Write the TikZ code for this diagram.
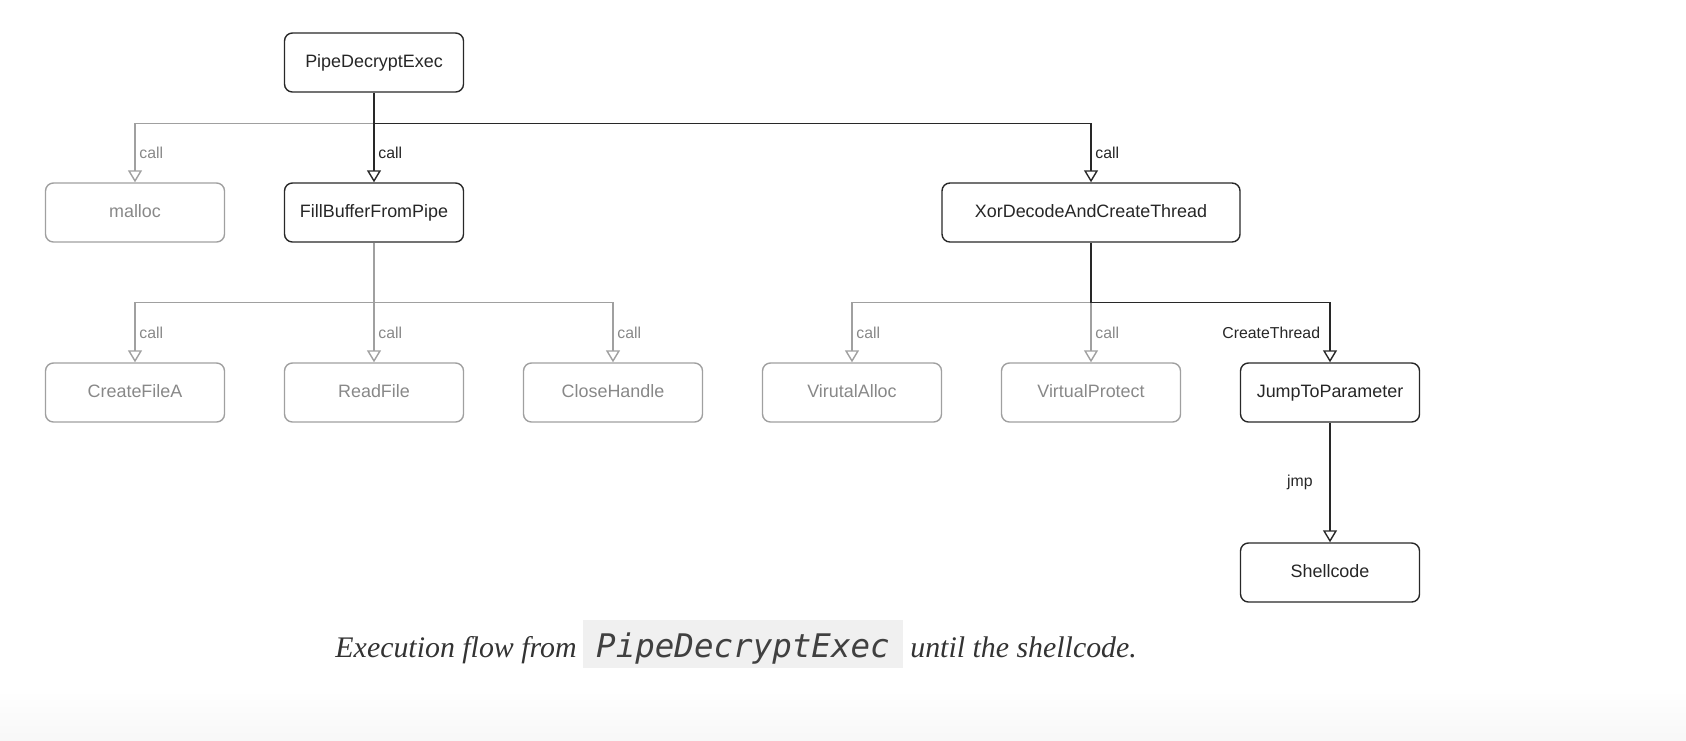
\documentclass[tikz,border=0pt]{standalone}
\usepackage{fontspec}
\setmainfont{Liberation Sans}
\newfontfamily\capfont{Liberation Serif}
\newfontfamily\codefont{DejaVu Sans Mono}
\usepackage{tikz}
\usetikzlibrary{arrows.meta,positioning,calc}
\definecolor{mygray}{RGB}{160,160,160}
\definecolor{mydark}{RGB}{40,40,40}
\definecolor{mytext}{RGB}{136,136,136}
\definecolor{codebg}{RGB}{240,240,240}

\begin{document}
\begin{tikzpicture}[node distance=4.78cm,
    func/.style={draw=mydark, rounded corners=4.5pt, line width=0.8pt, minimum width=3.58cm, minimum height=1.18cm, text height=0.72em, text depth=0.2em, font=\fontsize{10.2}{12}\selectfont, text=black!85},
    lib/.style={func, draw=mygray, text=mytext},
    link/.style={line width=0.8pt, draw=mydark, -{Triangle[open, length=0.24cm, width=0.28cm]}},
    glink/.style={link, draw=mygray},
    lbl/.style={font=\fontsize{9}{10}\selectfont, text=black!85, inner sep=1pt},
    glbl/.style={lbl, text=mytext}]
    \useasboundingbox (0,0) rectangle (33.72,-14.8);
    \shade[top color=white, bottom color=black!3] (0,-13.8) rectangle (33.72,-14.8);

    \node[func] (pde) at (7.48,-1.25) {PipeDecryptExec};
    \node[func] (fill) [node distance=3cm, below of=pde] {FillBufferFromPipe};
    \node[lib] (malloc) [left of=fill] {malloc};
    \node[lib] (rf) [node distance=3.6cm, below of=fill] {ReadFile};
    \node[lib] (cfa) [left of=rf] {CreateFileA};
    \node[lib] (ch) [right of=rf] {CloseHandle};
    \node[lib] (va) [right of=ch] {VirutalAlloc};
    \node[lib] (vp) [right of=va] {VirtualProtect};
    \node[func] (jtp) [right of=vp] {JumpToParameter};
    \node[func, minimum width=5.96cm] (xor) [node distance=3.6cm, above of=vp] {XorDecodeAndCreateThread};
    \node[func] (sc) [node distance=3.6cm, below of=jtp] {Shellcode};

    \coordinate (b1) at ($(pde.south)+(0,-0.62)$);
    \coordinate (b2) at ($(fill.south)+(0,-1.2)$);
    \coordinate (b3) at ($(xor.south)+(0,-1.2)$);

    % library calls
    \draw[glink] (b1) -| node[glbl, pos=0.75, right, xshift=0.04cm] {call} (malloc.north);
    \draw[glink] (b2) -| node[glbl, pos=0.75, right, xshift=0.04cm] {call} (cfa.north);
    \draw[glink] (fill.south) -- node[glbl, pos=0.75, right, xshift=0.04cm] {call} (rf.north);
    \draw[glink] (b2) -| node[glbl, pos=0.75, right, xshift=0.04cm] {call} (ch.north);
    \draw[glink] (b3) -| node[glbl, pos=0.75, right, xshift=0.04cm] {call} (va.north);
    \draw[glink] (b3) -- node[glbl, right, xshift=0.04cm] {call} (vp.north);

    % main flow
    \draw[link] (pde.south) -- (b1) -| node[lbl, pos=0.75, right, xshift=0.04cm] {call} (xor.north);
    \draw[link] (b1) -- node[lbl, right, xshift=0.04cm] {call} (fill.north);
    \draw[link] (xor.south) -- (b3) -| node[lbl, pos=0.75, left, xshift=-0.15cm] {CreateThread} (jtp.north);
    \draw[link] (jtp) -- node[lbl, left, xshift=-0.3cm] {jmp} (sc);

    % caption
    \node[font=\capfont\itshape\fontsize{17}{20}\selectfont, text=black!80, inner sep=0pt, anchor=base east] (capa) at (11.54,-13.14) {Execution flow from};
    \node[fill=codebg, font=\codefont\itshape\fontsize{18.5}{20}\selectfont, text=black!75, inner ysep=0pt, minimum width=6.4cm, text height=0.74cm, text depth=0.22cm, anchor=base] (capb) at (14.86,-13.14) {PipeDecryptExec};
    \node[font=\capfont\itshape\fontsize{17}{20}\selectfont, text=black!80, inner sep=0pt, anchor=base west] (capc) at (18.2,-13.14) {until the shellcode.};
\end{tikzpicture}
\end{document}
